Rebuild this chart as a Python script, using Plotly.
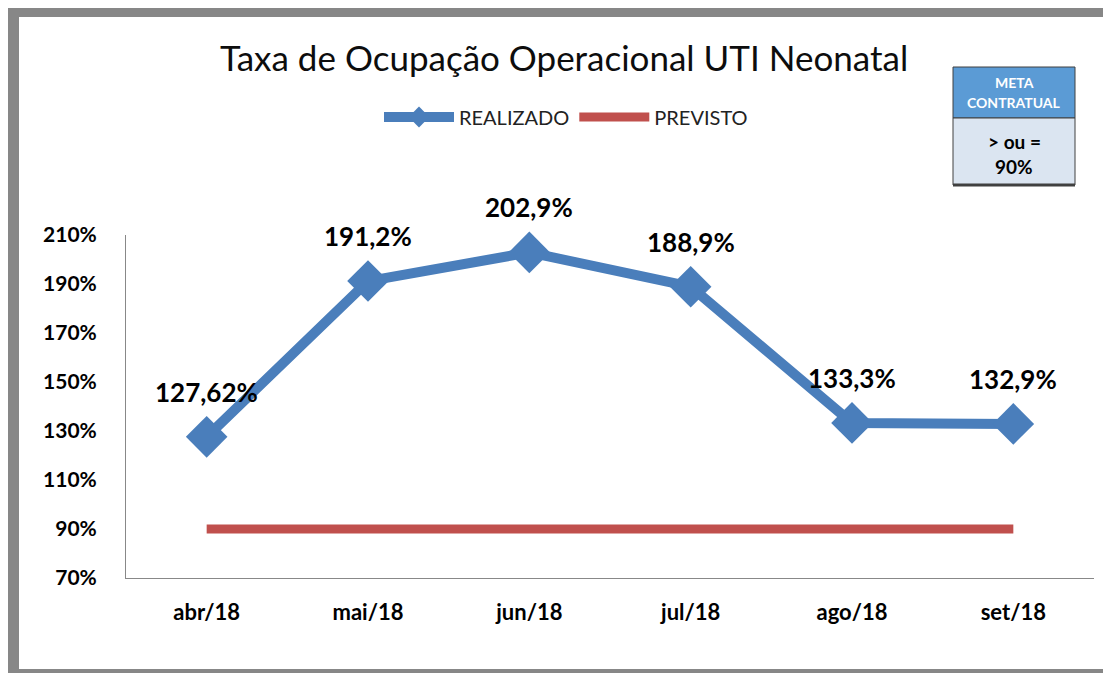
import plotly.graph_objects as go

categories = ["abr/18", "mai/18", "jun/18", "jul/18", "ago/18", "set/18"]
realizado = [127.62, 191.2, 202.9, 188.9, 133.3, 132.9]
realizado_labels = ["127,62%", "191,2%", "202,9%", "188,9%", "133,3%", "132,9%"]
previsto = [90, 90, 90, 90, 90, 90]
y_ticks = [70, 90, 110, 130, 150, 170, 190, 210]
y_ticktext = ["70%", "90%", "110%", "130%", "150%", "170%", "190%", "210%"]

# page body has an 8px margin: work in screen pixels and shift by OFF
OFF = 8
W, H = 1111 - OFF, 673 - OFF
L, R, T, B = 126, 1094, 235, 578  # screen pixels of plot area
FONT = "Lato, 'Open Sans', sans-serif"
BLUE = "#4A7EBB"
RED = "#C0504D"
GRAY = "#878787"


def px(x):
    return (x - L) / (R - L)


def py(y):
    return (B - y) / (B - T)


fig = go.Figure()
fig.add_trace(go.Scatter(
    x=categories, y=realizado, name="REALIZADO", mode="lines+markers",
    line=dict(color=BLUE, width=10),
    marker=dict(symbol="diamond", size=32, color=BLUE),
    cliponaxis=False,
))
fig.add_trace(go.Scatter(
    x=categories, y=previsto, name="PREVISTO", mode="lines",
    line=dict(color=RED, width=9), cliponaxis=False,
))

annotations = []
for c, v, t in zip(categories, realizado, realizado_labels):
    annotations.append(dict(x=c, y=v, text="<b>" + t + "</b>", showarrow=False, yshift=45,
                            xanchor="center", yanchor="middle",
                            font=dict(family=FONT, size=26, color="#000000")))


def ann(x, y, text, size, color):
    return dict(xref="paper", yref="paper", x=px(x), y=py(y), text=text, showarrow=False,
                xanchor="center", yanchor="middle", font=dict(family=FONT, size=size, color=color))


annotations.append(ann(564, 57, "Taxa de Ocupação Operacional UTI Neonatal", 35, "#0d0d0d"))

box_x0, box_x1 = 953, 1075
bxc = (box_x0 + box_x1) / 2
annotations += [
    ann(bxc, 82, "<b>META</b>", 14, "white"),
    ann(bxc, 102, "<b>CONTRATUAL</b>", 14, "white"),
    ann(bxc, 141, "<b>> ou =</b>", 19, "black"),
    ann(bxc, 166, "<b>90%</b>", 19, "black"),
]


def rect(x0, x1, y0, y1, fill, line=None, layer="above"):
    return dict(type="rect", xref="paper", yref="paper", x0=px(x0), x1=px(x1), y0=py(y0), y1=py(y1),
                fillcolor=fill, line=line or dict(width=0), layer=layer)


shapes = [
    rect(7, 1111, 7, 17, GRAY),
    rect(7, 19, 7, 673, GRAY),
    rect(1108, 1110, 7, 670, GRAY),
    rect(7, 1110, 669, 673, GRAY),
    rect(box_x0, box_x1, 67, 118, "#5B9BD5", dict(color="#404040", width=1)),
    rect(box_x0, box_x1, 118, 185, "#DBE5F1", dict(color="#404040", width=1)),
    dict(type="line", xref="paper", yref="paper", x0=px(box_x0), x1=px(box_x1), y0=py(185), y1=py(185),
         line=dict(color="#404040", width=3)),
]

fig.update_layout(
    width=W, height=H,
    margin=dict(l=L - OFF, r=(1111 - R), t=T - OFF, b=(673 - B), pad=0, autoexpand=False),
    paper_bgcolor="white", plot_bgcolor="white",
    font=dict(family=FONT, color="#000000"),
    showlegend=True,
    legend=dict(orientation="h", xref="paper", yref="paper",
                x=px(566), y=py(117), xanchor="center", yanchor="middle",
                font=dict(family=FONT, size=20, color="#222222"),
                itemwidth=70, bgcolor="rgba(0,0,0,0)", tracegroupgap=0),
    annotations=annotations,
    shapes=shapes,
    xaxis=dict(range=[-0.5, 5.5], showline=True, linecolor="#888888", linewidth=1, showgrid=False,
               ticks="outside", ticklen=15, tickcolor="rgba(0,0,0,0)",
               tickprefix="<b>", ticksuffix="</b>",
               tickfont=dict(family=FONT, size=22, color="#000000"),
               zeroline=False, automargin=False),
    yaxis=dict(range=[70, 210], tickvals=y_ticks,
               ticktext=["<b>" + t + "</b>" for t in y_ticktext],
               showline=True, linecolor="#888888", linewidth=1, showgrid=False,
               ticks="outside", ticklen=24, tickcolor="rgba(0,0,0,0)",
               tickfont=dict(family=FONT, size=21, color="#000000"),
               zeroline=False, automargin=False),
)

fig.write_html("out.html")
